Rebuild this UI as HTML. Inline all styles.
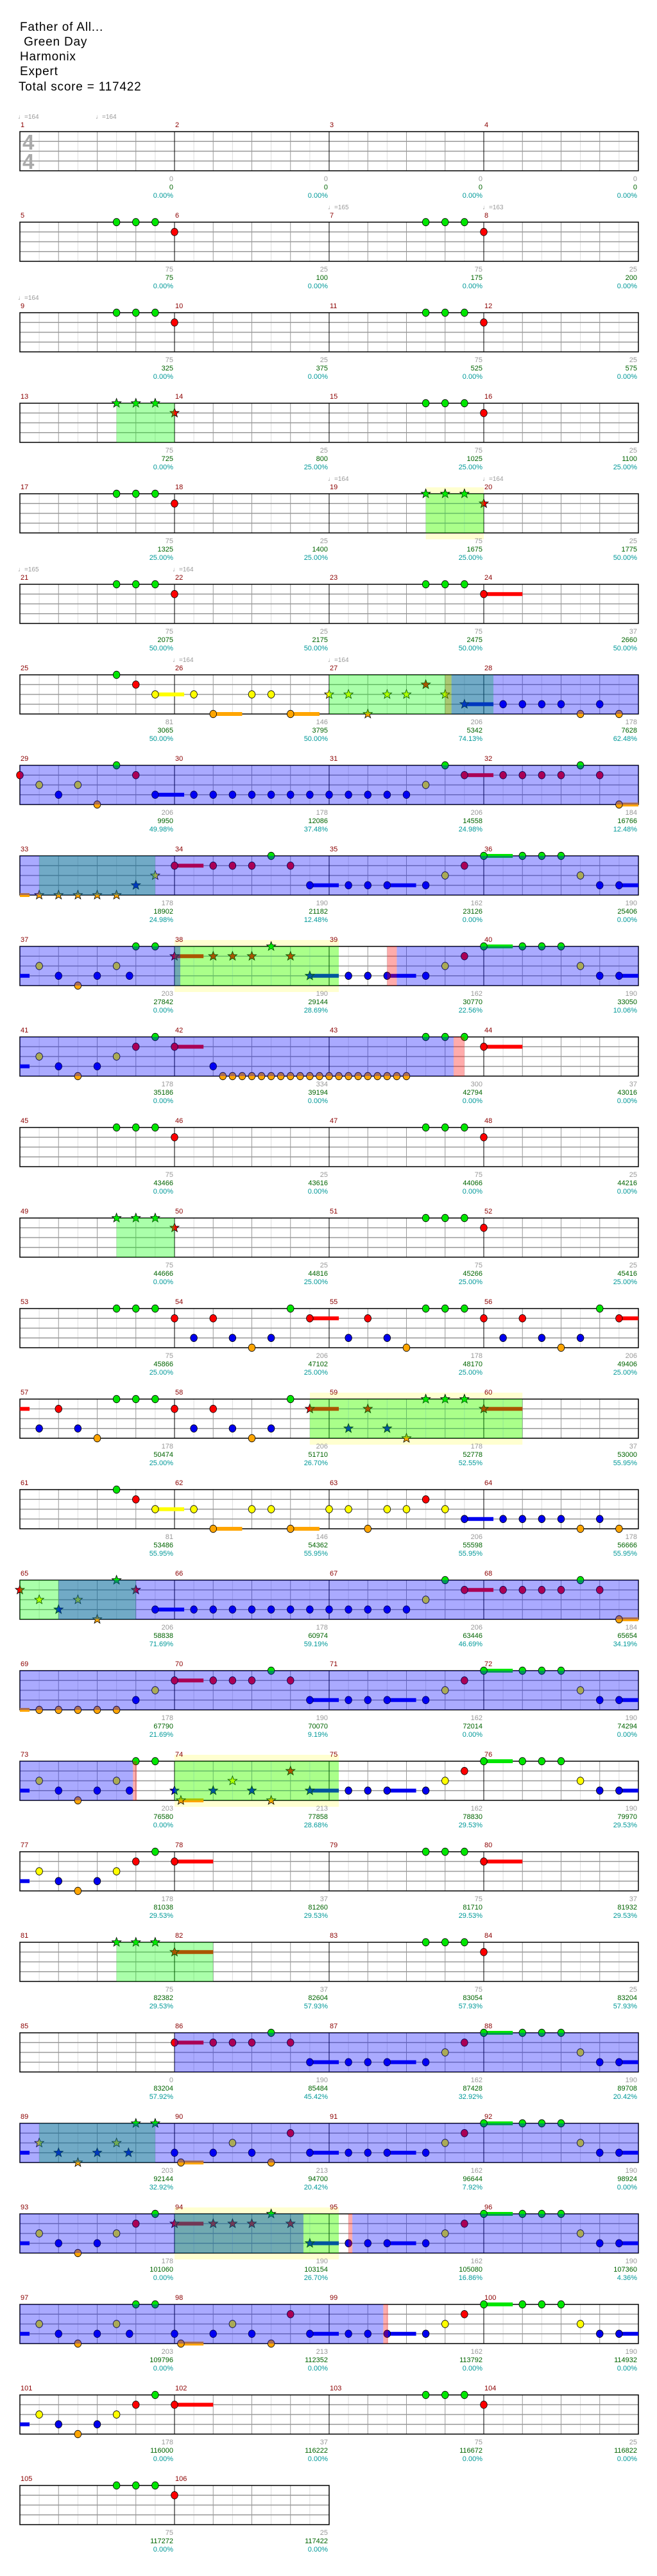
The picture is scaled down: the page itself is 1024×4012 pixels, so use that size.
<!DOCTYPE html>
<html><head><meta charset="utf-8">
<style>
html,body{margin:0;padding:0;background:#fff;}
svg{display:block;}
text{font-family:"Liberation Sans",sans-serif;}
.t{font-size:19px;fill:#000;letter-spacing:0.8px;}
.m{font-size:11px;fill:#8b0000;}
.a{font-size:11px;fill:#999;text-anchor:end;}
.b{font-size:11px;fill:#006400;text-anchor:end;}
.c{font-size:11px;fill:#009999;text-anchor:end;}
.tp{font-size:10px;fill:#999;}
.ts{font-size:33px;fill:#aaa;font-weight:bold;}
</style></head>
<body>
<svg id="s" width="1024" height="4012" xmlns="http://www.w3.org/2000/svg">
<g id="shapes"></g>
<text class="t" x="31" y="48">Father of All...</text>
<text class="t" x="31" y="71" xml:space="preserve"> Green Day</text>
<text class="t" x="31" y="94">Harmonix</text>
<text class="t" x="31" y="117">Expert</text>
<text class="t" x="29" y="141">Total score = 117422</text>
<text class="ts" x="35" y="233">4</text>
<text class="ts" x="35" y="263">4</text>

<g transform="translate(0,205)">
<text class="tp" x="28" y="-20">♩=164</text><text class="tp" x="149" y="-20">♩=164</text>
<text class="m" x="32" y="-7">1</text><text class="m" x="273" y="-7">2</text><text class="m" x="514" y="-7">3</text><text class="m" x="755" y="-7">4</text>
<text class="a" x="270" y="77">0</text><text class="a" x="511" y="77">0</text><text class="a" x="752" y="77">0</text><text class="a" x="993" y="77">0</text>
<text class="b" x="270" y="90">0</text><text class="b" x="511" y="90">0</text><text class="b" x="752" y="90">0</text><text class="b" x="993" y="90">0</text>
<text class="c" x="270" y="103">0.00%</text><text class="c" x="511" y="103">0.00%</text><text class="c" x="752" y="103">0.00%</text><text class="c" x="993" y="103">0.00%</text>
</g>
<g transform="translate(0,346)">
<text class="tp" x="511" y="-20">♩=165</text><text class="tp" x="752" y="-20">♩=163</text>
<text class="m" x="32" y="-7">5</text><text class="m" x="273" y="-7">6</text><text class="m" x="514" y="-7">7</text><text class="m" x="755" y="-7">8</text>
<text class="a" x="270" y="77">75</text><text class="a" x="511" y="77">25</text><text class="a" x="752" y="77">75</text><text class="a" x="993" y="77">25</text>
<text class="b" x="270" y="90">75</text><text class="b" x="511" y="90">100</text><text class="b" x="752" y="90">175</text><text class="b" x="993" y="90">200</text>
<text class="c" x="270" y="103">0.00%</text><text class="c" x="511" y="103">0.00%</text><text class="c" x="752" y="103">0.00%</text><text class="c" x="993" y="103">0.00%</text>
</g>
<g transform="translate(0,487)">
<text class="tp" x="28" y="-20">♩=164</text>
<text class="m" x="32" y="-7">9</text><text class="m" x="273" y="-7">10</text><text class="m" x="514" y="-7">11</text><text class="m" x="755" y="-7">12</text>
<text class="a" x="270" y="77">75</text><text class="a" x="511" y="77">25</text><text class="a" x="752" y="77">75</text><text class="a" x="993" y="77">25</text>
<text class="b" x="270" y="90">325</text><text class="b" x="511" y="90">375</text><text class="b" x="752" y="90">525</text><text class="b" x="993" y="90">575</text>
<text class="c" x="270" y="103">0.00%</text><text class="c" x="511" y="103">0.00%</text><text class="c" x="752" y="103">0.00%</text><text class="c" x="993" y="103">0.00%</text>
</g>
<g transform="translate(0,628)">
<text class="m" x="32" y="-7">13</text><text class="m" x="273" y="-7">14</text><text class="m" x="514" y="-7">15</text><text class="m" x="755" y="-7">16</text>
<text class="a" x="270" y="77">75</text><text class="a" x="511" y="77">25</text><text class="a" x="752" y="77">75</text><text class="a" x="993" y="77">25</text>
<text class="b" x="270" y="90">725</text><text class="b" x="511" y="90">800</text><text class="b" x="752" y="90">1025</text><text class="b" x="993" y="90">1100</text>
<text class="c" x="270" y="103">0.00%</text><text class="c" x="511" y="103">25.00%</text><text class="c" x="752" y="103">25.00%</text><text class="c" x="993" y="103">25.00%</text>
</g>
<g transform="translate(0,769)">
<text class="tp" x="511" y="-20">♩=164</text><text class="tp" x="752" y="-20">♩=164</text>
<text class="m" x="32" y="-7">17</text><text class="m" x="273" y="-7">18</text><text class="m" x="514" y="-7">19</text><text class="m" x="755" y="-7">20</text>
<text class="a" x="270" y="77">75</text><text class="a" x="511" y="77">25</text><text class="a" x="752" y="77">75</text><text class="a" x="993" y="77">25</text>
<text class="b" x="270" y="90">1325</text><text class="b" x="511" y="90">1400</text><text class="b" x="752" y="90">1675</text><text class="b" x="993" y="90">1775</text>
<text class="c" x="270" y="103">25.00%</text><text class="c" x="511" y="103">25.00%</text><text class="c" x="752" y="103">25.00%</text><text class="c" x="993" y="103">50.00%</text>
</g>
<g transform="translate(0,910)">
<text class="tp" x="28" y="-20">♩=165</text><text class="tp" x="269" y="-20">♩=164</text>
<text class="m" x="32" y="-7">21</text><text class="m" x="273" y="-7">22</text><text class="m" x="514" y="-7">23</text><text class="m" x="755" y="-7">24</text>
<text class="a" x="270" y="77">75</text><text class="a" x="511" y="77">25</text><text class="a" x="752" y="77">75</text><text class="a" x="993" y="77">37</text>
<text class="b" x="270" y="90">2075</text><text class="b" x="511" y="90">2175</text><text class="b" x="752" y="90">2475</text><text class="b" x="993" y="90">2660</text>
<text class="c" x="270" y="103">50.00%</text><text class="c" x="511" y="103">50.00%</text><text class="c" x="752" y="103">50.00%</text><text class="c" x="993" y="103">50.00%</text>
</g>
<g transform="translate(0,1051)">
<text class="tp" x="269" y="-20">♩=164</text><text class="tp" x="511" y="-20">♩=164</text>
<text class="m" x="32" y="-7">25</text><text class="m" x="273" y="-7">26</text><text class="m" x="514" y="-7">27</text><text class="m" x="755" y="-7">28</text>
<text class="a" x="270" y="77">81</text><text class="a" x="511" y="77">146</text><text class="a" x="752" y="77">206</text><text class="a" x="993" y="77">178</text>
<text class="b" x="270" y="90">3065</text><text class="b" x="511" y="90">3795</text><text class="b" x="752" y="90">5342</text><text class="b" x="993" y="90">7628</text>
<text class="c" x="270" y="103">50.00%</text><text class="c" x="511" y="103">50.00%</text><text class="c" x="752" y="103">74.13%</text><text class="c" x="993" y="103">62.48%</text>
</g>
<g transform="translate(0,1192)">
<text class="m" x="32" y="-7">29</text><text class="m" x="273" y="-7">30</text><text class="m" x="514" y="-7">31</text><text class="m" x="755" y="-7">32</text>
<text class="a" x="270" y="77">206</text><text class="a" x="511" y="77">178</text><text class="a" x="752" y="77">206</text><text class="a" x="993" y="77">184</text>
<text class="b" x="270" y="90">9950</text><text class="b" x="511" y="90">12086</text><text class="b" x="752" y="90">14558</text><text class="b" x="993" y="90">16766</text>
<text class="c" x="270" y="103">49.98%</text><text class="c" x="511" y="103">37.48%</text><text class="c" x="752" y="103">24.98%</text><text class="c" x="993" y="103">12.48%</text>
</g>
<g transform="translate(0,1333)">
<text class="m" x="32" y="-7">33</text><text class="m" x="273" y="-7">34</text><text class="m" x="514" y="-7">35</text><text class="m" x="755" y="-7">36</text>
<text class="a" x="270" y="77">178</text><text class="a" x="511" y="77">190</text><text class="a" x="752" y="77">162</text><text class="a" x="993" y="77">190</text>
<text class="b" x="270" y="90">18902</text><text class="b" x="511" y="90">21182</text><text class="b" x="752" y="90">23126</text><text class="b" x="993" y="90">25406</text>
<text class="c" x="270" y="103">24.98%</text><text class="c" x="511" y="103">12.48%</text><text class="c" x="752" y="103">0.00%</text><text class="c" x="993" y="103">0.00%</text>
</g>
<g transform="translate(0,1474)">
<text class="m" x="32" y="-7">37</text><text class="m" x="273" y="-7">38</text><text class="m" x="514" y="-7">39</text><text class="m" x="755" y="-7">40</text>
<text class="a" x="270" y="77">203</text><text class="a" x="511" y="77">190</text><text class="a" x="752" y="77">162</text><text class="a" x="993" y="77">190</text>
<text class="b" x="270" y="90">27842</text><text class="b" x="511" y="90">29144</text><text class="b" x="752" y="90">30770</text><text class="b" x="993" y="90">33050</text>
<text class="c" x="270" y="103">0.00%</text><text class="c" x="511" y="103">28.69%</text><text class="c" x="752" y="103">22.56%</text><text class="c" x="993" y="103">10.06%</text>
</g>
<g transform="translate(0,1615)">
<text class="m" x="32" y="-7">41</text><text class="m" x="273" y="-7">42</text><text class="m" x="514" y="-7">43</text><text class="m" x="755" y="-7">44</text>
<text class="a" x="270" y="77">178</text><text class="a" x="511" y="77">334</text><text class="a" x="752" y="77">300</text><text class="a" x="993" y="77">37</text>
<text class="b" x="270" y="90">35186</text><text class="b" x="511" y="90">39194</text><text class="b" x="752" y="90">42794</text><text class="b" x="993" y="90">43016</text>
<text class="c" x="270" y="103">0.00%</text><text class="c" x="511" y="103">0.00%</text><text class="c" x="752" y="103">0.00%</text><text class="c" x="993" y="103">0.00%</text>
</g>
<g transform="translate(0,1756)">
<text class="m" x="32" y="-7">45</text><text class="m" x="273" y="-7">46</text><text class="m" x="514" y="-7">47</text><text class="m" x="755" y="-7">48</text>
<text class="a" x="270" y="77">75</text><text class="a" x="511" y="77">25</text><text class="a" x="752" y="77">75</text><text class="a" x="993" y="77">25</text>
<text class="b" x="270" y="90">43466</text><text class="b" x="511" y="90">43616</text><text class="b" x="752" y="90">44066</text><text class="b" x="993" y="90">44216</text>
<text class="c" x="270" y="103">0.00%</text><text class="c" x="511" y="103">0.00%</text><text class="c" x="752" y="103">0.00%</text><text class="c" x="993" y="103">0.00%</text>
</g>
<g transform="translate(0,1897)">
<text class="m" x="32" y="-7">49</text><text class="m" x="273" y="-7">50</text><text class="m" x="514" y="-7">51</text><text class="m" x="755" y="-7">52</text>
<text class="a" x="270" y="77">75</text><text class="a" x="511" y="77">25</text><text class="a" x="752" y="77">75</text><text class="a" x="993" y="77">25</text>
<text class="b" x="270" y="90">44666</text><text class="b" x="511" y="90">44816</text><text class="b" x="752" y="90">45266</text><text class="b" x="993" y="90">45416</text>
<text class="c" x="270" y="103">0.00%</text><text class="c" x="511" y="103">25.00%</text><text class="c" x="752" y="103">25.00%</text><text class="c" x="993" y="103">25.00%</text>
</g>
<g transform="translate(0,2038)">
<text class="m" x="32" y="-7">53</text><text class="m" x="273" y="-7">54</text><text class="m" x="514" y="-7">55</text><text class="m" x="755" y="-7">56</text>
<text class="a" x="270" y="77">75</text><text class="a" x="511" y="77">206</text><text class="a" x="752" y="77">178</text><text class="a" x="993" y="77">206</text>
<text class="b" x="270" y="90">45866</text><text class="b" x="511" y="90">47102</text><text class="b" x="752" y="90">48170</text><text class="b" x="993" y="90">49406</text>
<text class="c" x="270" y="103">25.00%</text><text class="c" x="511" y="103">25.00%</text><text class="c" x="752" y="103">25.00%</text><text class="c" x="993" y="103">25.00%</text>
</g>
<g transform="translate(0,2179)">
<text class="m" x="32" y="-7">57</text><text class="m" x="273" y="-7">58</text><text class="m" x="514" y="-7">59</text><text class="m" x="755" y="-7">60</text>
<text class="a" x="270" y="77">178</text><text class="a" x="511" y="77">206</text><text class="a" x="752" y="77">178</text><text class="a" x="993" y="77">37</text>
<text class="b" x="270" y="90">50474</text><text class="b" x="511" y="90">51710</text><text class="b" x="752" y="90">52778</text><text class="b" x="993" y="90">53000</text>
<text class="c" x="270" y="103">25.00%</text><text class="c" x="511" y="103">26.70%</text><text class="c" x="752" y="103">52.55%</text><text class="c" x="993" y="103">55.95%</text>
</g>
<g transform="translate(0,2320)">
<text class="m" x="32" y="-7">61</text><text class="m" x="273" y="-7">62</text><text class="m" x="514" y="-7">63</text><text class="m" x="755" y="-7">64</text>
<text class="a" x="270" y="77">81</text><text class="a" x="511" y="77">146</text><text class="a" x="752" y="77">206</text><text class="a" x="993" y="77">178</text>
<text class="b" x="270" y="90">53486</text><text class="b" x="511" y="90">54362</text><text class="b" x="752" y="90">55598</text><text class="b" x="993" y="90">56666</text>
<text class="c" x="270" y="103">55.95%</text><text class="c" x="511" y="103">55.95%</text><text class="c" x="752" y="103">55.95%</text><text class="c" x="993" y="103">55.95%</text>
</g>
<g transform="translate(0,2461)">
<text class="m" x="32" y="-7">65</text><text class="m" x="273" y="-7">66</text><text class="m" x="514" y="-7">67</text><text class="m" x="755" y="-7">68</text>
<text class="a" x="270" y="77">206</text><text class="a" x="511" y="77">178</text><text class="a" x="752" y="77">206</text><text class="a" x="993" y="77">184</text>
<text class="b" x="270" y="90">58838</text><text class="b" x="511" y="90">60974</text><text class="b" x="752" y="90">63446</text><text class="b" x="993" y="90">65654</text>
<text class="c" x="270" y="103">71.69%</text><text class="c" x="511" y="103">59.19%</text><text class="c" x="752" y="103">46.69%</text><text class="c" x="993" y="103">34.19%</text>
</g>
<g transform="translate(0,2602)">
<text class="m" x="32" y="-7">69</text><text class="m" x="273" y="-7">70</text><text class="m" x="514" y="-7">71</text><text class="m" x="755" y="-7">72</text>
<text class="a" x="270" y="77">178</text><text class="a" x="511" y="77">190</text><text class="a" x="752" y="77">162</text><text class="a" x="993" y="77">190</text>
<text class="b" x="270" y="90">67790</text><text class="b" x="511" y="90">70070</text><text class="b" x="752" y="90">72014</text><text class="b" x="993" y="90">74294</text>
<text class="c" x="270" y="103">21.69%</text><text class="c" x="511" y="103">9.19%</text><text class="c" x="752" y="103">0.00%</text><text class="c" x="993" y="103">0.00%</text>
</g>
<g transform="translate(0,2743)">
<text class="m" x="32" y="-7">73</text><text class="m" x="273" y="-7">74</text><text class="m" x="514" y="-7">75</text><text class="m" x="755" y="-7">76</text>
<text class="a" x="270" y="77">203</text><text class="a" x="511" y="77">213</text><text class="a" x="752" y="77">162</text><text class="a" x="993" y="77">190</text>
<text class="b" x="270" y="90">76580</text><text class="b" x="511" y="90">77858</text><text class="b" x="752" y="90">78830</text><text class="b" x="993" y="90">79970</text>
<text class="c" x="270" y="103">0.00%</text><text class="c" x="511" y="103">28.68%</text><text class="c" x="752" y="103">29.53%</text><text class="c" x="993" y="103">29.53%</text>
</g>
<g transform="translate(0,2884)">
<text class="m" x="32" y="-7">77</text><text class="m" x="273" y="-7">78</text><text class="m" x="514" y="-7">79</text><text class="m" x="755" y="-7">80</text>
<text class="a" x="270" y="77">178</text><text class="a" x="511" y="77">37</text><text class="a" x="752" y="77">75</text><text class="a" x="993" y="77">37</text>
<text class="b" x="270" y="90">81038</text><text class="b" x="511" y="90">81260</text><text class="b" x="752" y="90">81710</text><text class="b" x="993" y="90">81932</text>
<text class="c" x="270" y="103">29.53%</text><text class="c" x="511" y="103">29.53%</text><text class="c" x="752" y="103">29.53%</text><text class="c" x="993" y="103">29.53%</text>
</g>
<g transform="translate(0,3025)">
<text class="m" x="32" y="-7">81</text><text class="m" x="273" y="-7">82</text><text class="m" x="514" y="-7">83</text><text class="m" x="755" y="-7">84</text>
<text class="a" x="270" y="77">75</text><text class="a" x="511" y="77">37</text><text class="a" x="752" y="77">75</text><text class="a" x="993" y="77">25</text>
<text class="b" x="270" y="90">82382</text><text class="b" x="511" y="90">82604</text><text class="b" x="752" y="90">83054</text><text class="b" x="993" y="90">83204</text>
<text class="c" x="270" y="103">29.53%</text><text class="c" x="511" y="103">57.93%</text><text class="c" x="752" y="103">57.93%</text><text class="c" x="993" y="103">57.93%</text>
</g>
<g transform="translate(0,3166)">
<text class="m" x="32" y="-7">85</text><text class="m" x="273" y="-7">86</text><text class="m" x="514" y="-7">87</text><text class="m" x="755" y="-7">88</text>
<text class="a" x="270" y="77">0</text><text class="a" x="511" y="77">190</text><text class="a" x="752" y="77">162</text><text class="a" x="993" y="77">190</text>
<text class="b" x="270" y="90">83204</text><text class="b" x="511" y="90">85484</text><text class="b" x="752" y="90">87428</text><text class="b" x="993" y="90">89708</text>
<text class="c" x="270" y="103">57.92%</text><text class="c" x="511" y="103">45.42%</text><text class="c" x="752" y="103">32.92%</text><text class="c" x="993" y="103">20.42%</text>
</g>
<g transform="translate(0,3307)">
<text class="m" x="32" y="-7">89</text><text class="m" x="273" y="-7">90</text><text class="m" x="514" y="-7">91</text><text class="m" x="755" y="-7">92</text>
<text class="a" x="270" y="77">203</text><text class="a" x="511" y="77">213</text><text class="a" x="752" y="77">162</text><text class="a" x="993" y="77">190</text>
<text class="b" x="270" y="90">92144</text><text class="b" x="511" y="90">94700</text><text class="b" x="752" y="90">96644</text><text class="b" x="993" y="90">98924</text>
<text class="c" x="270" y="103">32.92%</text><text class="c" x="511" y="103">20.42%</text><text class="c" x="752" y="103">7.92%</text><text class="c" x="993" y="103">0.00%</text>
</g>
<g transform="translate(0,3448)">
<text class="m" x="32" y="-7">93</text><text class="m" x="273" y="-7">94</text><text class="m" x="514" y="-7">95</text><text class="m" x="755" y="-7">96</text>
<text class="a" x="270" y="77">178</text><text class="a" x="511" y="77">190</text><text class="a" x="752" y="77">162</text><text class="a" x="993" y="77">190</text>
<text class="b" x="270" y="90">101060</text><text class="b" x="511" y="90">103154</text><text class="b" x="752" y="90">105080</text><text class="b" x="993" y="90">107360</text>
<text class="c" x="270" y="103">0.00%</text><text class="c" x="511" y="103">26.70%</text><text class="c" x="752" y="103">16.86%</text><text class="c" x="993" y="103">4.36%</text>
</g>
<g transform="translate(0,3589)">
<text class="m" x="32" y="-7">97</text><text class="m" x="273" y="-7">98</text><text class="m" x="514" y="-7">99</text><text class="m" x="755" y="-7">100</text>
<text class="a" x="270" y="77">203</text><text class="a" x="511" y="77">213</text><text class="a" x="752" y="77">162</text><text class="a" x="993" y="77">190</text>
<text class="b" x="270" y="90">109796</text><text class="b" x="511" y="90">112352</text><text class="b" x="752" y="90">113792</text><text class="b" x="993" y="90">114932</text>
<text class="c" x="270" y="103">0.00%</text><text class="c" x="511" y="103">0.00%</text><text class="c" x="752" y="103">0.00%</text><text class="c" x="993" y="103">0.00%</text>
</g>
<g transform="translate(0,3730)">
<text class="m" x="32" y="-7">101</text><text class="m" x="273" y="-7">102</text><text class="m" x="514" y="-7">103</text><text class="m" x="755" y="-7">104</text>
<text class="a" x="270" y="77">178</text><text class="a" x="511" y="77">37</text><text class="a" x="752" y="77">75</text><text class="a" x="993" y="77">25</text>
<text class="b" x="270" y="90">116000</text><text class="b" x="511" y="90">116222</text><text class="b" x="752" y="90">116672</text><text class="b" x="993" y="90">116822</text>
<text class="c" x="270" y="103">0.00%</text><text class="c" x="511" y="103">0.00%</text><text class="c" x="752" y="103">0.00%</text><text class="c" x="993" y="103">0.00%</text>
</g>
<g transform="translate(0,3871)">
<text class="m" x="32" y="-7">105</text><text class="m" x="273" y="-7">106</text>
<text class="a" x="270" y="77">75</text><text class="a" x="511" y="77">25</text>
<text class="b" x="270" y="90">117272</text><text class="b" x="511" y="90">117422</text>
<text class="c" x="270" y="103">0.00%</text><text class="c" x="511" y="103">0.00%</text>
</g>
</svg>
<script>
(function(){
var NS="http://www.w3.org/2000/svg";
var g=document.getElementById("shapes");
function el(t,a){var e=document.createElementNS(NS,t);for(var k in a)e.setAttribute(k,a[k]);g.appendChild(e);return e;}
function X(p){return 31+p*30.125;}
var LC={G:"#00e600",R:"#ff0000",Y:"#ffff00",B:"#0000ee",O:"#ffa500"};
var LI={G:0,R:1,Y:2,B:3,O:4};
var H="5G 6G 7G 8R 21G 22G 23G 24R";
var P1="t0B-0.5 1Y 2B 3O 4B 5Y";
var TAIL="17B 18B 19B-20.5 21B 22Y 23R 24G-25.5 26G 27G 28G 29Y 30B 31B-32";
var MID="8R-9.5 10R 11R 12R 13G 14R 15B-16.5 ";
var BL="9B 10B 11B 12B 13B 14B 15B 16B 17B 18B 19B 20B 21Y 22G 23R-24.5 25R 26R 27R 28R 29G 30R 31O-32";
var or="";for(var i=10.5;i<=20.01;i+=0.5)or+=" "+i+"O";
var rows=[
{n:""},
{n:H},
{n:H},
{sp:[[5,8]],n:"5g 6g 7g 8r 21G 22G 23G 24R"},
{sp:[[21,24]],yl:[[21,24]],n:"5G 6G 7G 8R 21g 22g 23g 24r"},
{n:"5G 6G 7G 8R 21G 22G 23G 24R-26"},
{sp:[[16,24.5]],od:[[22.33,32]],pk:[[22,22.33]],n:"5G 6R 7Y-8.5 9Y 10O-11.5 12Y 13Y 14O-15.5 16y 17y 18o 19y 20y 21r 22y 23b-24.5 25B 26B 27B 28B 29O 30B 31O"},
{od:[[0,32]],n:"0R 1Y 2B 3Y 4O 5G 6R 7B-8.5 "+BL},
{od:[[0,32]],sp:[[1,7]],n:"t0O-0.5 1o 2o 3o 4o 5o 6b 7y "+MID+TAIL},
{od:[[0,8.3],[19.5,32]],sp:[[8,16.5]],yl:[[8,16.5]],pk:[[19,19.5]],n:P1+" 5.67B 6G 7G 8r-9.5 10r 11r 12r 13g 14r 15b-16.5 "+TAIL},
{od:[[0,22.44]],pk:[[22.44,23]],n:P1+" 6R 7G 8R-9.5 10B"+or+" 21G 22G 23G 24R-26"},
{n:H},
{sp:[[5,8]],n:"5g 6g 7g 8r 21G 22G 23G 24R"},
{n:"5G 6G 7G 8R 9B 10R 11B 12O 13B 14G 15R-16.5 17B 18R 19B 20O 21G 22G 23G 24R 25B 26R 27B 28O 29B 30G 31R-32"},
{sp:[[15,26]],yl:[[15,26]],n:"t0R-0.5 1B 2R 3B 4O 5G 6G 7G 8R 9B 10R 11B 12O 13B 14G 15r-16.5 17b 18r 19b 20o 21g 22g 23g 24r-26"},
{n:"5G 6R 7Y-8.5 9Y 10O-11.5 12Y 13Y 14O-15.5 16Y 17Y 18O 19Y 20Y 21R 22Y 23B-24.5 25B 26B 27B 28B 29O 30B 31O"},
{sp:[[0,6]],od:[[2,32]],n:"0r 1y 2b 3y 4o 5g 6r 7B-8.5 "+BL},
{od:[[0,32]],n:"t0O-0.5 1O 2O 3O 4O 5O 6B 7Y "+MID+TAIL},
{od:[[0,5.85]],pk:[[5.85,6.05]],sp:[[8,16.5]],yl:[[8,16.5]],n:P1+" 5.67B 6G 7G 8b 8.33o-9.5 10b 11y 12b 13o 14r 15b-16.5 "+TAIL},
{n:P1+" 6R 7G 8R-10 21G 22G 23G 24R-26"},
{sp:[[5,10]],n:"5g 6g 7g 8r-10 21G 22G 23G 24R"},
{od:[[8,32]],n:MID+TAIL},
{od:[[0,32]],sp:[[1,7]],n:"t0B-0.5 1y 2b 3o 4b 5y 5.62b 6g 7g 8B 8.33O-9.5 10B 11Y 12B 13O 14R 15B-16.5 "+TAIL},
{od:[[0,14.67],[17.2,32]],sp:[[8,16.5]],yl:[[8,16.5]],pk:[[17,17.2]],n:P1+" 6R 7G 8r-9.5 10r 11r 12r 13g 14r 15b-16.5 "+TAIL},
{od:[[0,18.8]],pk:[[18.8,19.05]],n:P1+" 5.67B 6G 7G 8B 8.33O-9.5 10B 11Y 12B 13O 14R 15B-16.5 "+TAIL},
{n:P1+" 6R 7G 8R-10 21G 22G 23G 24R"},
{w:16,n:"5G 6G 7G 8R"}
];
function star(cx,cy,r,fill){
 var pts=[];for(var k=0;k<10;k++){var a=-Math.PI/2+k*Math.PI/5;var rr=k%2?r*0.42:r;pts.push((cx+rr*Math.cos(a)).toFixed(1)+","+(cy+rr*Math.sin(a)).toFixed(1));}
 el("polygon",{points:pts.join(" "),fill:fill,stroke:"#000","stroke-width":0.8});
}
rows.forEach(function(R,r){
 var T=205+141*r,w=R.w||32,LS=15.25,Hh=61;
 (R.yl||[]).forEach(function(a){el("rect",{x:X(a[0]),y:T-10,width:X(a[1])-X(a[0]),height:Hh+20,fill:"#ffffd0"});});
 for(var i=1;i<w;i+=2)el("line",{x1:X(i),x2:X(i),y1:T,y2:T+Hh,stroke:"#ddd","stroke-width":1});
 for(i=2;i<w;i+=2)if(i%8)el("line",{x1:X(i),x2:X(i),y1:T,y2:T+Hh,stroke:"#999","stroke-width":1});
 for(var l=1;l<4;l++)el("line",{x1:X(0),x2:X(w),y1:T+l*LS,y2:T+l*LS,stroke:"#999","stroke-width":1.5});
 for(i=8;i<w;i+=8)el("line",{x1:X(i),x2:X(i),y1:T,y2:T+Hh,stroke:"#000","stroke-width":1});
 el("rect",{x:X(0),y:T,width:X(w)-X(0),height:Hh,fill:"none",stroke:"#000","stroke-width":1.5});
 var toks=R.n.trim()?R.n.trim().split(/\s+/):[];
 var parsed=toks.map(function(t){var m=t.match(/^(t?)([\d.]+)([GRYBOgrybo])(?:-([\d.]+))?$/);return m?{tail:!!m[1],p:+m[2],L:m[3].toUpperCase(),st:m[3]!==m[3].toUpperCase(),e:m[4]?+m[4]:null}:null;}).filter(Boolean);
 parsed.forEach(function(n){if(n.e!==null){var y=T+LI[n.L]*LS;el("rect",{x:X(n.p),y:y-3,width:X(n.e)-X(n.p),height:6,fill:LC[n.L]});}});
 parsed.forEach(function(n){if(n.tail)return;var x=X(n.p),y=T+LI[n.L]*LS;
  if(n.st)star(x,y,7.5,LC[n.L]);else el("ellipse",{cx:x,cy:y,rx:5.3,ry:5.8,fill:LC[n.L],stroke:"#000","stroke-width":0.8});});
 (R.pk||[]).forEach(function(a){el("rect",{x:X(a[0]),y:T,width:X(a[1])-X(a[0]),height:Hh,fill:"rgba(255,0,0,0.33)"});});
 (R.sp||[]).forEach(function(a){el("rect",{x:X(a[0]),y:T,width:X(a[1])-X(a[0]),height:Hh,fill:"rgba(0,255,0,0.333)"});});
 (R.od||[]).forEach(function(a){el("rect",{x:X(a[0]),y:T,width:X(a[1])-X(a[0]),height:Hh,fill:"rgba(0,0,255,0.333)"});});
});
})();
</script>
</body></html>
